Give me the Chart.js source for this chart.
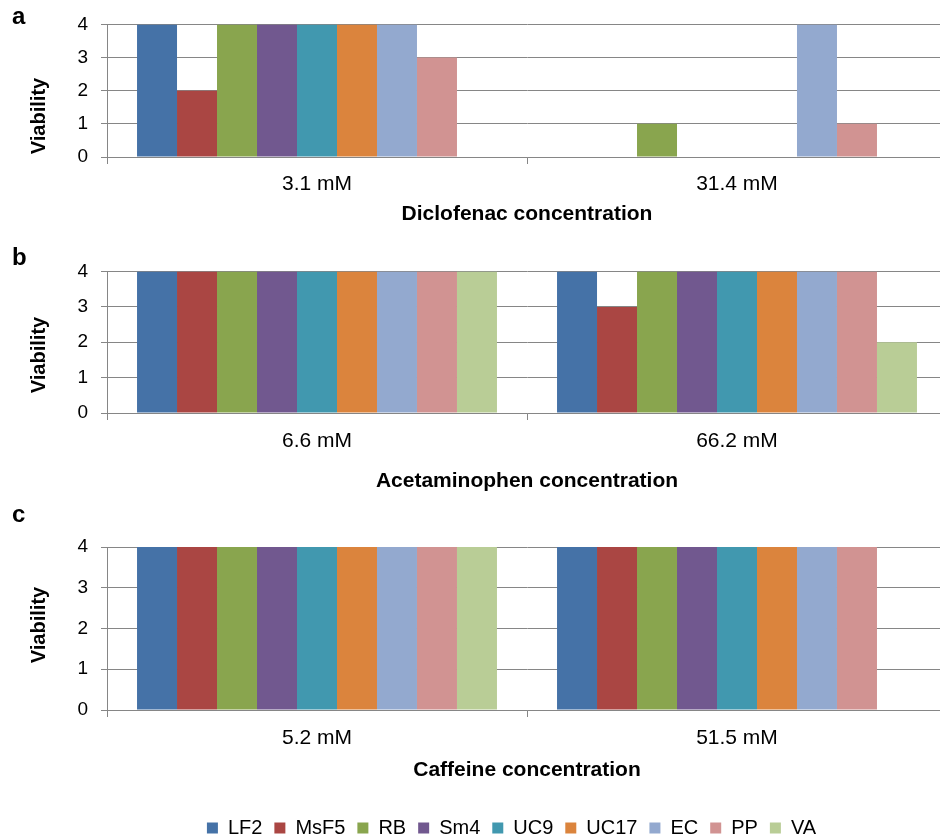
<!DOCTYPE html>
<html>
<head>
<meta charset="utf-8">
<script src="https://cdn.jsdelivr.net/npm/chart.js@4.4.1/dist/chart.umd.min.js"></script>
<style>
  html, body { margin: 0; padding: 0; background: #fff; overflow: hidden; }
  body { width: 940px; height: 839px; position: relative; }
  canvas { position: absolute; left: 0; }
</style>
</head>
<body>
<canvas id="chartA" width="960" height="230" style="top:0px"></canvas>
<canvas id="chartB" width="960" height="252" style="top:245px"></canvas>
<canvas id="chartC" width="960" height="348" style="top:500px"></canvas>
<script>
// Data
const strains = ['LF2', 'MsF5', 'RB', 'Sm4', 'UC9', 'UC17', 'EC', 'PP', 'VA'];
const strainColors = ['#4572A7', '#AA4643', '#89A54E', '#71588F', '#4198AF', '#DB843D', '#93A9CF', '#D19392', '#B9CD96'];

const diclofenacDoses = ['3.1 mM', '31.4 mM'];
const diclofenacViability = [
    [4, 0], [2, 0], [4, 1], [4, 0], [4, 0], [4, 0], [4, 4], [3, 1], [0, 0]
];

const acetaminophenDoses = ['6.6 mM', '66.2 mM'];
const acetaminophenViability = [
    [4, 4], [4, 3], [4, 4], [4, 4], [4, 4], [4, 4], [4, 4], [4, 4], [4, 2]
];

const caffeineDoses = ['5.2 mM', '51.5 mM'];
const caffeineViability = [
    [4, 4], [4, 4], [4, 4], [4, 4], [4, 4], [4, 4], [4, 4], [4, 4], [4, 0]
];

const viabilityTicks = [0, 1, 2, 3, 4];

const FONT = '"Liberation Sans", Arial, Helvetica, sans-serif';
const AXIS_GRAY = '#868686';

// draws the panel letter and the rotated y title
const panelText = {
    id: 'panelText',
    afterDraw(chart, args, opts) {
        const ctx = chart.ctx;
        ctx.save();
        ctx.fillStyle = '#000';
        ctx.textBaseline = 'middle';
        ctx.font = 'bold 24px ' + FONT;
        ctx.textAlign = 'left';
        ctx.fillText(opts.letter, 12, opts.letterY);
        ctx.translate(39, opts.titleY);
        ctx.rotate(-Math.PI / 2);
        ctx.textAlign = 'center';
        ctx.font = 'bold 20px ' + FONT;
        ctx.fillText('Viability', 0, 0);
        ctx.restore();
    }
};

const makeChart = (id, doses, values, title, cfg) => {
    const ctx = document.getElementById(id).getContext('2d');
    return new Chart(ctx, {
        type: 'bar',
        data: {
            labels: doses,
            datasets: strains.map((name, i) => ({
                label: name,
                data: values[i],
                backgroundColor: strainColors[i],
                borderWidth: 0,
                categoryPercentage: 0.857,
                barPercentage: 1.0
            }))
        },
        options: {
            responsive: false,
            animation: false,
            layout: {
                padding: { top: cfg.top, left: 76, right: 13, bottom: 0 }
            },
            plugins: {
                legend: {
                    display: cfg.legend,
                    position: 'bottom',
                    labels: {
                        boxWidth: 11,
                        boxHeight: 11,
                        padding: 12,
                        color: '#000',
                        font: { family: FONT, size: 20 }
                    }
                },
                tooltip: { enabled: false },
                panelText: { letter: cfg.letter, letterY: cfg.letterY, titleY: cfg.titleY }
            },
            scales: {
                x: {
                    afterFit: (scale) => { scale.height = cfg.xHeight; },
                    grid: {
                        display: true,
                        drawOnChartArea: false,
                        drawTicks: true,
                        tickLength: 7,
                        color: AXIS_GRAY,
                        offset: true
                    },
                    border: { display: true, color: AXIS_GRAY },
                    ticks: {
                        color: '#000',
                        padding: cfg.tickPad,
                        font: { family: FONT, size: 21 }
                    },
                    title: {
                        display: true,
                        text: title,
                        color: '#000',
                        padding: { top: 0, bottom: cfg.titlePad },
                        font: { family: FONT, size: 21, weight: 'bold' }
                    }
                },
                y: {
                    min: 0,
                    max: 4,
                    afterFit: (scale) => { scale.width = 31; },
                    afterBuildTicks: (scale) => {
                        scale.ticks = viabilityTicks.map(v => ({ value: v }));
                    },
                    grid: {
                        color: AXIS_GRAY,
                        tickLength: 6
                    },
                    border: { display: true, color: AXIS_GRAY },
                    ticks: {
                        color: '#000',
                        padding: 13,
                        font: { family: FONT, size: 19 }
                    }
                }
            }
        },
        plugins: [panelText]
    });
};

document.addEventListener('DOMContentLoaded', () => {
    makeChart('chartA', diclofenacDoses, diclofenacViability, 'Diclofenac concentration', {
        top: 23, xHeight: 73, tickPad: 8, titlePad: 3,
        letter: 'a', letterY: 17, titleY: 116, legend: false
    });
    makeChart('chartB', acetaminophenDoses, acetaminophenViability, 'Acetaminophen concentration', {
        top: 26.5, xHeight: 84, tickPad: 9, titlePad: 3,
        letter: 'b', letterY: 13, titleY: 110, legend: false
    });
    makeChart('chartC', caffeineDoses, caffeineViability, 'Caffeine concentration', {
        top: 47, xHeight: 96, tickPad: 9, titlePad: 23,
        letter: 'c', letterY: 15, titleY: 125, legend: true
    });
});
</script>
</body>
</html>
